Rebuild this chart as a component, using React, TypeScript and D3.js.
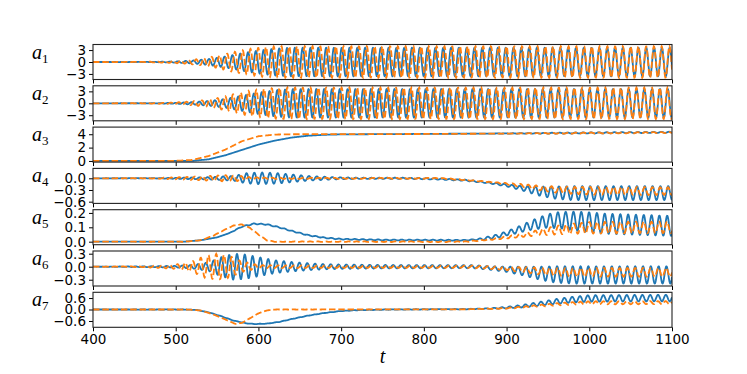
import { useEffect, useRef } from 'react';
import * as d3 from 'd3';

type Knot = [number, number];

// x axis
const tStart = 400;
const tEnd = 1100;
const xTicks = [400, 500, 600, 700, 800, 900, 1000, 1100];

const periodBlue = 9.44;
const periodOrange = 9.38;

// a1
const a1BlueMean: Knot[] = [[400, 0], [1100, 0]];
const a1BlueAmp: Knot[] = [[400, 0], [470, 0.02], [500, 0.15], [520, 0.35], [540, 0.75], [560, 1.4], [580, 2.2], [600, 2.9], [620, 3.4], [640, 3.6], [1100, 3.6]];
const a1OrangeMean: Knot[] = [[400, 0], [1100, 0]];
const a1OrangeAmp: Knot[] = [[400, 0], [460, 0.03], [490, 0.2], [510, 0.4], [530, 0.8], [550, 1.5], [570, 2.5], [590, 3.3], [610, 3.8], [630, 3.95], [1100, 3.95]];

// a2
const a2BlueMean: Knot[] = [[400, 0], [1100, 0]];
const a2BlueAmp: Knot[] = [[400, 0], [470, 0.02], [500, 0.12], [520, 0.3], [540, 0.6], [560, 1.1], [580, 1.9], [600, 2.7], [620, 3.3], [640, 3.6], [1100, 3.6]];
const a2OrangeMean: Knot[] = [[400, 0], [1100, 0]];
const a2OrangeAmp: Knot[] = [[400, 0], [460, 0.03], [490, 0.15], [510, 0.35], [530, 0.7], [550, 1.3], [570, 2.3], [590, 3.2], [610, 3.7], [630, 3.95], [1100, 3.95]];

// a3
const a3BlueMean: Knot[] = [[400, 0], [520, 0.01], [540, 0.25], [560, 0.85], [580, 1.65], [600, 2.45], [620, 3.05], [640, 3.5], [660, 3.78], [680, 3.92], [700, 3.98], [800, 4.05], [900, 4.12], [1000, 4.2], [1100, 4.3]];
const a3BlueAmp: Knot[] = [[400, 0], [880, 0], [950, 0.06], [1000, 0.08], [1100, 0.08]];
const a3OrangeMean: Knot[] = [[400, 0], [500, 0.02], [520, 0.15], [540, 0.75], [560, 1.7], [580, 2.95], [600, 3.7], [620, 3.95], [640, 4.0], [800, 4.04], [900, 4.1], [1000, 4.18], [1100, 4.26]];
const a3OrangeAmp: Knot[] = [[400, 0], [880, 0], [950, 0.06], [1000, 0.08], [1100, 0.08]];

// a4
const a4BlueMean: Knot[] = [[400, 0], [780, 0], [820, -0.02], [850, -0.05], [880, -0.12], [900, -0.18], [920, -0.26], [940, -0.33], [960, -0.37], [980, -0.38], [1100, -0.38]];
const a4BlueAmp: Knot[] = [[400, 0], [480, 0.005], [540, 0.03], [570, 0.06], [585, 0.13], [600, 0.15], [620, 0.14], [640, 0.1], [660, 0.06], [690, 0.03], [720, 0.015], [880, 0.015], [900, 0.03], [920, 0.06], [940, 0.12], [960, 0.16], [980, 0.18], [1100, 0.18]];
const a4OrangeMean: Knot[] = [[400, 0], [820, 0], [850, -0.04], [880, -0.1], [900, -0.14], [920, -0.19], [940, -0.25], [960, -0.29], [980, -0.31], [1000, -0.32], [1100, -0.33]];
const a4OrangeAmp: Knot[] = [[400, 0], [470, 0.005], [500, 0.025], [530, 0.05], [560, 0.08], [575, 0.07], [590, 0.03], [610, 0.015], [880, 0.01], [900, 0.02], [920, 0.04], [940, 0.06], [960, 0.08], [980, 0.09], [1000, 0.1], [1100, 0.1]];

// a5
const a5BlueMean: Knot[] = [[400, 0], [510, 0], [530, 0.01], [550, 0.03], [565, 0.06], [580, 0.105], [595, 0.125], [610, 0.12], [625, 0.1], [640, 0.075], [660, 0.045], [680, 0.027], [700, 0.018], [750, 0.012], [850, 0.01], [870, 0.018], [890, 0.04], [910, 0.075], [930, 0.115], [950, 0.145], [965, 0.15], [990, 0.14], [1020, 0.125], [1100, 0.11]];
const a5BlueAmp: Knot[] = [[400, 0], [560, 0], [580, 0.003], [860, 0.003], [880, 0.01], [900, 0.015], [920, 0.025], [940, 0.04], [960, 0.055], [980, 0.065], [1000, 0.07], [1100, 0.07]];
const a5OrangeMean: Knot[] = [[400, 0], [510, 0], [530, 0.01], [545, 0.04], [560, 0.085], [570, 0.112], [580, 0.12], [590, 0.095], [600, 0.05], [610, 0.01], [620, 0], [850, 0], [880, 0.015], [900, 0.03], [920, 0.045], [940, 0.065], [960, 0.08], [980, 0.09], [1000, 0.097], [1100, 0.1]];
const a5OrangeAmp: Knot[] = [[400, 0], [880, 0.003], [900, 0.008], [920, 0.012], [940, 0.02], [960, 0.03], [980, 0.035], [1000, 0.04], [1100, 0.04]];

// a6
const a6BlueMean: Knot[] = [[400, 0], [860, 0], [880, -0.03], [900, -0.06], [920, -0.1], [940, -0.15], [960, -0.18], [980, -0.19], [1100, -0.19]];
const a6BlueAmp: Knot[] = [[400, 0], [470, 0.01], [500, 0.02], [520, 0.04], [540, 0.1], [555, 0.22], [570, 0.3], [585, 0.28], [600, 0.22], [620, 0.15], [640, 0.11], [660, 0.08], [680, 0.06], [700, 0.05], [750, 0.04], [850, 0.035], [880, 0.04], [900, 0.06], [920, 0.1], [940, 0.15], [960, 0.19], [980, 0.2], [1100, 0.2]];
const a6OrangeMean: Knot[] = [[400, 0], [860, 0], [880, -0.02], [900, -0.04], [920, -0.07], [940, -0.1], [960, -0.12], [980, -0.13], [1100, -0.13]];
const a6OrangeAmp: Knot[] = [[400, 0], [460, 0.01], [480, 0.03], [500, 0.05], [520, 0.12], [535, 0.25], [550, 0.3], [565, 0.25], [580, 0.12], [600, 0.04], [620, 0.03], [850, 0.025], [880, 0.03], [900, 0.04], [920, 0.06], [940, 0.08], [960, 0.09], [980, 0.1], [1100, 0.1]];

// a7
const a7BlueMean: Knot[] = [[400, 0], [510, 0], [525, -0.02], [540, -0.15], [555, -0.35], [570, -0.58], [585, -0.72], [595, -0.76], [610, -0.74], [625, -0.65], [640, -0.5], [660, -0.32], [680, -0.18], [700, -0.08], [720, -0.03], [760, 0], [850, 0.02], [880, 0.05], [900, 0.1], [920, 0.18], [940, 0.3], [960, 0.42], [980, 0.52], [1000, 0.58], [1100, 0.6]];
const a7BlueAmp: Knot[] = [[400, 0], [600, 0.008], [850, 0.01], [880, 0.02], [900, 0.04], [920, 0.07], [940, 0.1], [960, 0.13], [980, 0.15], [1000, 0.17], [1100, 0.17]];
const a7OrangeMean: Knot[] = [[400, 0], [515, 0], [530, -0.05], [545, -0.25], [560, -0.52], [572, -0.75], [580, -0.7], [590, -0.45], [600, -0.2], [610, -0.05], [620, 0], [850, 0.01], [880, 0.04], [900, 0.07], [920, 0.12], [940, 0.2], [960, 0.27], [980, 0.32], [1000, 0.35], [1100, 0.36]];
const a7OrangeAmp: Knot[] = [[400, 0], [850, 0.005], [900, 0.02], [940, 0.05], [980, 0.07], [1000, 0.08], [1100, 0.08]];

// y ranges and tick labels of each panel
const yDomains: [number, number][] = [[-4.4, 4.4], [-4.4, 4.4], [-0.17, 5.07], [-0.644, 0.254], [-0.021, 0.2225], [-0.445, 0.362], [-0.93, 0.9]];
const yTicks = [[-3, 0, 3], [-3, 0, 3], [0, 2, 4], [-0.6, -0.3, 0.0], [0.0, 0.1, 0.2], [-0.3, 0.0, 0.3], [-0.6, 0.0, 0.6]];
const yFormats = ['d', 'd', 'd', '.1f', '.1f', '.1f', '.1f'];

const panels = [
    { blue: [a1BlueMean, a1BlueAmp], orange: [a1OrangeMean, a1OrangeAmp], phase: 0 },
    { blue: [a2BlueMean, a2BlueAmp], orange: [a2OrangeMean, a2OrangeAmp], phase: Math.PI / 2 },
    { blue: [a3BlueMean, a3BlueAmp], orange: [a3OrangeMean, a3OrangeAmp], phase: 0.5 },
    { blue: [a4BlueMean, a4BlueAmp], orange: [a4OrangeMean, a4OrangeAmp], phase: 1.2 },
    { blue: [a5BlueMean, a5BlueAmp], orange: [a5OrangeMean, a5OrangeAmp], phase: 2.0 },
    { blue: [a6BlueMean, a6BlueAmp], orange: [a6OrangeMean, a6OrangeAmp], phase: 2.6 },
    { blue: [a7BlueMean, a7BlueAmp], orange: [a7OrangeMean, a7OrangeAmp], phase: 3.1 },
];

const knotScale = (k: Knot[]) => d3.scaleLinear().domain(k.map(d => d[0])).range(k.map(d => d[1])).clamp(true);

const buildSeries = (mean: Knot[], amp: Knot[], period: number, phase: number) => {
    const m = knotScale(mean);
    const a = knotScale(amp);
    return d3.range(tStart, tEnd + 0.01, 0.5).map(t => [t, m(t) + a(t) * Math.cos(2 * Math.PI * (t - 1050) / period + phase)] as [number, number]);
};

const App = () => {
    const svgRef = useRef<SVGSVGElement>(null);

    useEffect(() => {
        const width = 747;
        const height = 374;
        const margin = { left: 93, right: 75 };
        const panelTop = 44.5;
        const panelStep = 41.3;
        const panelHeight = 35;

        const svg = d3.select(svgRef.current);
        svg.selectAll('*').remove();
        svg.attr('width', width).attr('height', height);
        svg.append('rect').attr('width', width).attr('height', height).attr('fill', 'white');

        const x = d3.scaleLinear().domain([tStart, tEnd]).range([margin.left, width - margin.right]);

        panels.forEach((p, i) => {
            const top = panelTop + i * panelStep;
            const y = d3.scaleLinear().domain(yDomains[i]).range([top + panelHeight, top]);
            const g = svg.append('g');

            g.append('clipPath').attr('id', `clip${i}`)
                .append('rect')
                .attr('x', x.range()[0]).attr('y', top)
                .attr('width', x.range()[1] - x.range()[0]).attr('height', panelHeight);

            const line = d3.line<[number, number]>().x(d => x(d[0])).y(d => y(d[1]));

            const blue = buildSeries(p.blue[0], p.blue[1], periodBlue, p.phase);
            const orange = buildSeries(p.orange[0], p.orange[1], periodOrange, p.phase);

            const lines = g.append('g').attr('clip-path', `url(#clip${i})`).attr('fill', 'none');
            lines.append('path').attr('d', line(blue))
                .attr('stroke', '#1f77b4').attr('stroke-width', 1.8).attr('stroke-linejoin', 'round');
            lines.append('path').attr('d', line(orange))
                .attr('stroke', '#ff7f0e').attr('stroke-width', 1.8)
                .attr('stroke-dasharray', '6.5,2.8');

            // x axis ticks on every panel, labels only on the last one
            const xAxis = g.append('g')
                .attr('transform', `translate(0,${top + panelHeight})`)
                .call(d3.axisBottom(x).tickValues(xTicks).tickSize(4).tickPadding(3)
                    .tickFormat(i === panels.length - 1 ? d3.format('d') : () => ''));
            xAxis.select('.domain').remove();

            const yAxis = g.append('g')
                .attr('transform', `translate(${margin.left},0)`)
                .call(d3.axisLeft(y).tickValues(yTicks[i]).tickSize(4).tickPadding(3)
                    .tickFormat(d => d3.format(yFormats[i])(d as number).replace('-', '\u2212')));
            yAxis.select('.domain').remove();

            [xAxis, yAxis].forEach(a => {
                a.selectAll('text').attr('font-family', 'DejaVu Sans').attr('font-size', 13.5).attr('fill', 'black');
                a.selectAll('line').attr('stroke', 'black').attr('stroke-width', 1);
            });

            g.append('rect')
                .attr('x', x.range()[0]).attr('y', top)
                .attr('width', x.range()[1] - x.range()[0]).attr('height', panelHeight)
                .attr('fill', 'none').attr('stroke', '#222').attr('stroke-width', 1.1);

            const label = g.append('text')
                .attr('x', 32).attr('y', top + 14)
                .attr('font-family', 'Liberation Serif').attr('font-style', 'italic')
                .attr('font-size', 20);
            label.append('tspan').text('a');
            label.append('tspan').attr('dy', 4).attr('font-size', 13).attr('font-style', 'normal').text(String(i + 1));
        });

        svg.append('text')
            .attr('x', (x.range()[0] + x.range()[1]) / 2).attr('y', 363)
            .attr('text-anchor', 'middle')
            .attr('font-family', 'Liberation Serif').attr('font-style', 'italic')
            .attr('font-size', 20)
            .text('t');
    }, []);

    return <svg ref={svgRef} style={{ position: 'absolute', left: 0, top: 0, display: 'block' }} />;
};

export default App;
